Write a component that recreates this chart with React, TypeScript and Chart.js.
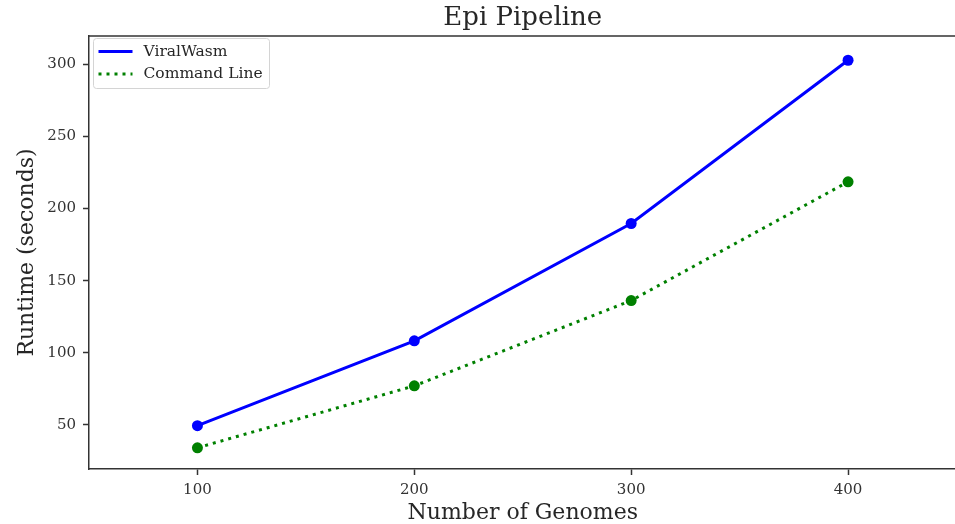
import React, { useEffect, useRef } from "react";
import { Chart, registerables } from "chart.js";

Chart.register(...registerables);

const genomes = [100, 200, 300, 400];
const viralWasm = [49.5, 108.3, 189.6, 302.7];
const viralWasmErr = [0.6, 1.0, 3.0, 2.5];
const commandLine = [34.2, 77.1, 136.2, 218.5];
const commandLineErr = [0.6, 1.0, 1.5, 2.5];
const xTicks = [100, 200, 300, 400];
const yTicks = [50, 100, 150, 200, 250, 300];

const FONT = "'DejaVu Serif', serif";
const AXIS = "#333333";

const errorBarPlugin = {
  id: "errorBars",
  beforeDatasetsDraw(chart: any) {
    const ctx = chart.ctx;
    const xs = chart.scales.x;
    const ys = chart.scales.y;
    chart.data.datasets.forEach((ds: any) => {
      const errs: number[] = ds.errors || [];
      ctx.save();
      ctx.strokeStyle = ds.borderColor;
      ctx.lineWidth = 2.5;
      ds.data.forEach((p: any, i: number) => {
        const e = errs[i] || 0;
        const x = xs.getPixelForValue(p.x);
        ctx.beginPath();
        ctx.moveTo(x, ys.getPixelForValue(p.y - e));
        ctx.lineTo(x, ys.getPixelForValue(p.y + e));
        ctx.stroke();
      });
      ctx.restore();
    });
  },
};

const framePlugin = {
  id: "frameAndLegend",
  afterDraw(chart: any) {
    const ctx = chart.ctx;
    const a = chart.chartArea;
    ctx.save();
    ctx.strokeStyle = AXIS;
    ctx.lineWidth = 1.5;
    ctx.beginPath();
    ctx.moveTo(a.left, a.top);
    ctx.lineTo(a.right, a.top);
    ctx.lineTo(a.right, a.bottom);
    ctx.stroke();

    // legend box
    const bx = a.left + 4.5;
    const by = a.top + 2.5;
    const bw = 176;
    const bh = 50;
    const r = 3;
    ctx.beginPath();
    ctx.moveTo(bx + r, by);
    ctx.lineTo(bx + bw - r, by);
    ctx.quadraticCurveTo(bx + bw, by, bx + bw, by + r);
    ctx.lineTo(bx + bw, by + bh - r);
    ctx.quadraticCurveTo(bx + bw, by + bh, bx + bw - r, by + bh);
    ctx.lineTo(bx + r, by + bh);
    ctx.quadraticCurveTo(bx, by + bh, bx, by + bh - r);
    ctx.lineTo(bx, by + r);
    ctx.quadraticCurveTo(bx, by, bx + r, by);
    ctx.closePath();
    ctx.fillStyle = "rgba(255,255,255,0.85)";
    ctx.fill();
    ctx.strokeStyle = "#d4d4d4";
    ctx.lineWidth = 1;
    ctx.stroke();

    chart.data.datasets.forEach((ds: any, i: number) => {
      const y = by + 13 + i * 22.5;
      ctx.beginPath();
      ctx.strokeStyle = ds.borderColor;
      ctx.lineWidth = 3;
      ctx.lineCap = "butt";
      ctx.setLineDash(ds.borderDash || []);
      ctx.moveTo(bx + 5, y);
      ctx.lineTo(bx + 39, y);
      ctx.stroke();
      ctx.setLineDash([]);
      ctx.fillStyle = "#262626";
      ctx.font = `15.5px ${FONT}`;
      ctx.textBaseline = "middle";
      ctx.textAlign = "left";
      ctx.fillText(ds.label, bx + 50, y);
    });
    ctx.restore();
  },
};

export default function App() {
  const ref = useRef<HTMLCanvasElement | null>(null);

  useEffect(() => {
    document.body.style.margin = "0";
    document.body.style.overflow = "hidden";
    const canvas = ref.current;
    if (!canvas) return;
    const chart = new Chart(canvas, {
      type: "line",
      data: {
        datasets: [
          {
            label: "ViralWasm",
            data: genomes.map((g, i) => ({ x: g, y: viralWasm[i] })),
            errors: viralWasmErr,
            borderColor: "#0000ff",
            backgroundColor: "#0000ff",
            borderWidth: 3,
            pointRadius: 5.5,
            pointBorderWidth: 0,
            pointBackgroundColor: "#0000ff",
            tension: 0,
          } as any,
          {
            label: "Command Line",
            data: genomes.map((g, i) => ({ x: g, y: commandLine[i] })),
            errors: commandLineErr,
            borderColor: "#008000",
            backgroundColor: "#008000",
            borderWidth: 3,
            borderDash: [3, 5],
            borderCapStyle: "butt",
            pointRadius: 5.5,
            pointBorderWidth: 0,
            pointBackgroundColor: "#008000",
            tension: 0,
          } as any,
        ],
      },
      options: {
        animation: false,
        responsive: false,
        layout: { padding: { left: 0, right: 2, top: 0, bottom: 0 } },
        plugins: {
          legend: { display: false },
          tooltip: { enabled: false },
          title: {
            display: true,
            text: "Epi Pipeline",
            fullSize: false,
            color: "#262626",
            font: { family: FONT, size: 26, weight: "normal", lineHeight: 1.2 },
            padding: { top: 2.5, bottom: 2.3 },
          },
        },
        scales: {
          x: {
            type: "linear",
            min: 50,
            max: 450,
            afterFit: (s: any) => {
              s.height = 55;
            },
            afterBuildTicks: (s: any) => {
              s.ticks = xTicks.map((v) => ({ value: v }));
            },
            grid: {
              display: true,
              drawOnChartArea: false,
              drawTicks: true,
              tickLength: 6,
              tickColor: AXIS,
              tickWidth: 1.5,
            },
            border: { display: true, color: AXIS, width: 1.5 },
            ticks: {
              color: "#333333",
              font: { family: FONT, size: 15 },
              padding: 6,
              maxRotation: 0,
            },
            title: {
              display: true,
              text: "Number of Genomes",
              color: "#262626",
              font: { family: FONT, size: 22, lineHeight: 1.2 },
              padding: { top: 0, bottom: -2.2 },
            },
          },
          y: {
            type: "linear",
            min: 19.5,
            max: 319.5,
            afterFit: (s: any) => {
              s.width = 89;
            },
            afterBuildTicks: (s: any) => {
              s.ticks = yTicks.map((v) => ({ value: v }));
            },
            grid: {
              display: true,
              drawOnChartArea: false,
              drawTicks: true,
              tickLength: 6,
              tickColor: AXIS,
              tickWidth: 1.5,
            },
            border: { display: true, color: AXIS, width: 1.5 },
            ticks: {
              color: "#333333",
              font: { family: FONT, size: 15 },
              padding: 7,
            },
            title: {
              display: true,
              text: "Runtime (seconds)",
              color: "#262626",
              font: { family: FONT, size: 22, lineHeight: 1.2 },
              padding: { top: 14.5, bottom: 0 },
            },
          },
        },
      } as any,
      plugins: [errorBarPlugin, framePlugin],
    });
    return () => chart.destroy();
  }, []);

  return (
    <canvas
      ref={ref}
      width={962}
      height={524}
      style={{ position: "absolute", left: 0, top: 0, display: "block" }}
    />
  );
}
